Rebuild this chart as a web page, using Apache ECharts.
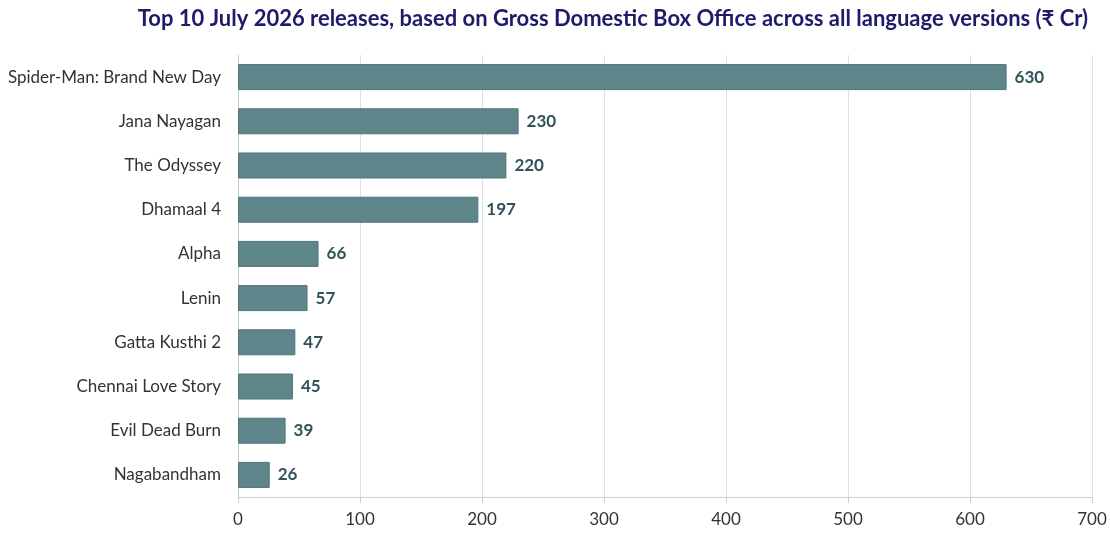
<!DOCTYPE html>
<html>
<head>
<meta charset="utf-8">
<script src="https://cdn.jsdelivr.net/npm/echarts@6/dist/echarts.min.js"></script>
<style>
  html, body { margin: 0; padding: 0; background: #fff; }
  #chart { width: 1110px; height: 533px; }
</style>
</head>
<body>
<div id="chart"></div>
<script>
// top 10 releases, gross domestic box office (₹ Cr)
var movies = ['Spider-Man: Brand New Day', 'Jana Nayagan', 'The Odyssey', 'Dhamaal 4', 'Alpha',
  'Lenin', 'Gatta Kusthi 2', 'Chennai Love Story', 'Evil Dead Burn', 'Nagabandham'];
var gross = [630, 230, 220, 197, 66, 57, 47, 45, 39, 26];

var font = '"Source Sans Pro", Lato, "Noto Sans", sans-serif';

var myChart = echarts.init(document.getElementById('chart'));
myChart.setOption({
    animation: false,
    title: {
        text: 'Top 10 July 2026 releases, based on Gross Domestic Box Office across all language versions (₹ Cr)',
        right: 17,
        top: 3,
        textStyle: {
            color: '#1e1b6b',
            fontFamily: font,
            fontWeight: 'bold',
            fontSize: 22
        }
    },
    grid: {
        left: 238,
        right: 18,
        top: 55,
        bottom: 36
    },
    xAxis: {
        type: 'value',
        min: 0,
        max: 700,
        interval: 100,
        axisLine: { show: true, lineStyle: { color: '#c9ced6' } },
        axisTick: { show: true, length: 6, lineStyle: { color: '#c9ced6' } },
        axisLabel: { color: '#333', fontFamily: font, fontSize: 17, margin: 14 },
        splitLine: { lineStyle: { color: '#dde1e6' } }
    },
    yAxis: {
        type: 'category',
        inverse: true,
        data: movies,
        axisLine: { show: true, lineStyle: { color: '#c9ced6' } },
        axisTick: { show: false },
        axisLabel: { color: '#333', fontFamily: font, fontSize: 17, margin: 17 }
    },
    series: [{
        type: 'bar',
        data: gross,
        barWidth: 26,
        itemStyle: {
            color: '#5f868a',
            borderColor: '#4f7579',
            borderWidth: 1
        },
        label: {
            show: true,
            position: 'right',
            distance: 8,
            color: '#2f5358',
            fontFamily: font,
            fontWeight: 'bold',
            fontSize: 17
        }
    }]
});
</script>
</body>
</html>
